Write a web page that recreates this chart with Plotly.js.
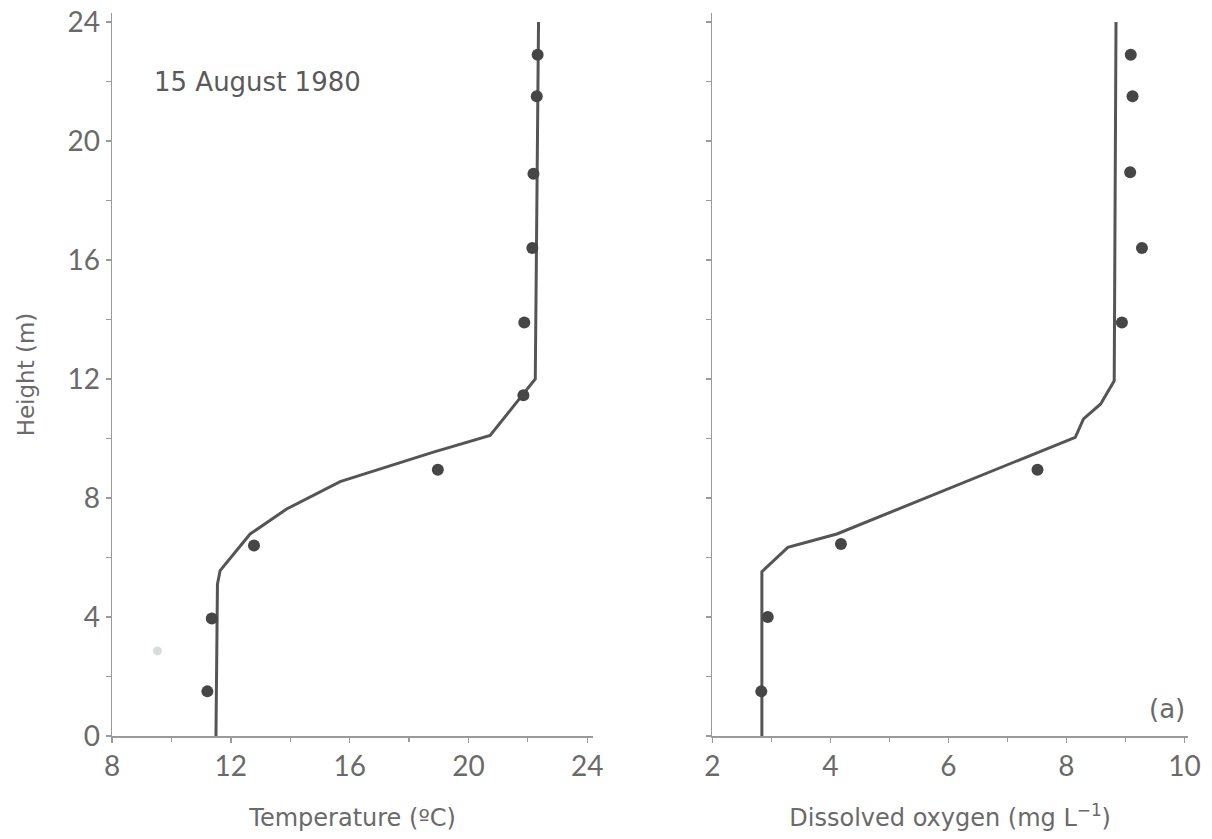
<!DOCTYPE html>
<html>
<head>
<meta charset="utf-8">
<script src="https://cdn.plot.ly/plotly-3.0.1.min.js"></script>
<style>
  html, body { margin: 0; padding: 0; background: #ffffff; }
  #chart { width: 1212px; height: 839px; }
</style>
</head>
<body>
<div id="chart"></div>
<script>
// ---- Data (15 August 1980) ----
// Observed profiles
const obsTempHeight = [22.9, 21.5, 18.9, 16.4, 13.9, 11.45, 8.95, 6.4, 3.95, 1.5];
const obsTemp       = [22.33, 22.3, 22.19, 22.15, 21.88, 21.85, 18.97, 12.78, 11.36, 11.21];

const obsOxyHeight  = [22.9, 21.5, 18.95, 16.4, 13.9, 8.95, 6.45, 4.0, 1.5];
const obsOxy        = [9.09, 9.12, 9.08, 9.28, 8.94, 7.51, 4.18, 2.94, 2.83];

// Faint (grey) observation in temperature panel
const faintTempHeight = [2.86];
const faintTemp       = [9.53];

// Simulated profiles (lines)
const modelTempHeight = [0, 5.1, 5.56, 6.79, 7.63, 8.55, 9.54, 10.1, 12.0, 24.0];
const modelTemp       = [11.5, 11.55, 11.64, 12.65, 13.88, 15.68, 18.82, 20.73, 22.25, 22.36];

const modelOxyHeight  = [0, 5.52, 6.34, 6.79, 10.04, 10.66, 11.16, 11.94, 24.0];
const modelOxy        = [2.84, 2.84, 3.28, 4.11, 8.15, 8.29, 8.58, 8.81, 8.84];

// Tick labels
const yTicks     = [0, 4, 8, 12, 16, 20, 24];
const tempTicks  = [8, 12, 16, 20, 24];
const oxyTicks   = [2, 4, 6, 8, 10];

// ---- Styles ----
const lineColor = '#555555';
const dotColor  = '#464646';
const axisColor = '#9a9a9a';
const textColor = '#6a6a6a';
const tickFont  = 'Lato, "DejaVu Sans", sans-serif';
const textFont  = '"DejaVu Sans", Lato, sans-serif';

const traces = [
  { x: modelTemp, y: modelTempHeight, xaxis: 'x', yaxis: 'y', mode: 'lines',
    line: { color: lineColor, width: 3 }, hoverinfo: 'skip' },
  { x: obsTemp, y: obsTempHeight, xaxis: 'x', yaxis: 'y', mode: 'markers',
    marker: { color: dotColor, size: 12 } },
  { x: faintTemp, y: faintTempHeight, xaxis: 'x', yaxis: 'y', mode: 'markers',
    marker: { color: '#d9ddd9', size: 9 } },
  { x: modelOxy, y: modelOxyHeight, xaxis: 'x2', yaxis: 'y2', mode: 'lines',
    line: { color: lineColor, width: 3 }, hoverinfo: 'skip' },
  { x: obsOxy, y: obsOxyHeight, xaxis: 'x2', yaxis: 'y2', mode: 'markers',
    marker: { color: dotColor, size: 12 } }
];

const axisCommon = {
  showgrid: false, zeroline: false, showline: true,
  linecolor: axisColor, linewidth: 1.5,
  ticks: 'outside', ticklen: 5, tickwidth: 1.5, tickcolor: axisColor,
  tickfont: { family: tickFont, size: 28, color: textColor },
  fixedrange: true
};

const layout = {
  width: 1212, height: 839,
  margin: { l: 112, r: 24, t: 13, b: 103 },
  paper_bgcolor: '#ffffff', plot_bgcolor: '#ffffff',
  showlegend: false,
  font: { family: textFont, color: textColor },
  xaxis: Object.assign({}, axisCommon, {
    domain: [0, 0.4472], range: [8, 24.2],
    tickmode: 'array', tickvals: tempTicks, ticktext: tempTicks.map(String),
    minor: { tickmode: 'linear', tick0: 8, dtick: 2, ticks: 'outside', ticklen: 4, tickcolor: axisColor, tickwidth: 1.2 },
    anchor: 'y',
    title: { text: 'Temperature (ºC)', font: { family: textFont, size: 24, color: textColor }, standoff: 28 }
  }),
  yaxis: Object.assign({}, axisCommon, {
    domain: [0, 1], range: [0, 24.3],
    tickmode: 'array', tickvals: yTicks, ticktext: yTicks.map(String),
    minor: { tickmode: 'linear', tick0: 0, dtick: 2, ticks: 'outside', ticklen: 5, tickcolor: axisColor, tickwidth: 1.2 },
    anchor: 'x',
    title: { text: 'Height (m)', font: { family: textFont, size: 23, color: textColor }, standoff: 26 }
  }),
  xaxis2: Object.assign({}, axisCommon, {
    domain: [0.5579, 1], range: [2, 10.06],
    tickmode: 'array', tickvals: oxyTicks, ticktext: oxyTicks.map(String),
    minor: { tickmode: 'linear', tick0: 2, dtick: 1, ticks: 'outside', ticklen: 4, tickcolor: axisColor, tickwidth: 1.2 },
    anchor: 'y2',
    title: { text: 'Dissolved oxygen (mg L<sup>−1</sup>)', font: { family: textFont, size: 24, color: textColor }, standoff: 28 }
  }),
  yaxis2: Object.assign({}, axisCommon, {
    domain: [0, 1], range: [0, 24.3],
    tickmode: 'array', tickvals: yTicks, showticklabels: false,
    minor: { tickmode: 'linear', tick0: 0, dtick: 2, ticks: 'outside', ticklen: 5, tickcolor: axisColor, tickwidth: 1.2 },
    anchor: 'x2'
  }),
  annotations: [
    { text: '15 August 1980', xref: 'x', yref: 'y', x: 9.35, y: 21.98,
      xanchor: 'left', yanchor: 'middle', showarrow: false,
      font: { family: textFont, size: 26, color: '#5a5a5a' } },
    { text: '(a)', xref: 'x2', yref: 'y2', x: 10.05, y: 0.9,
      xanchor: 'right', yanchor: 'middle', showarrow: false,
      font: { family: textFont, size: 26, color: textColor } }
  ]
};

Plotly.newPlot('chart', traces, layout, { staticPlot: true, displayModeBar: false });
</script>
</body>
</html>
